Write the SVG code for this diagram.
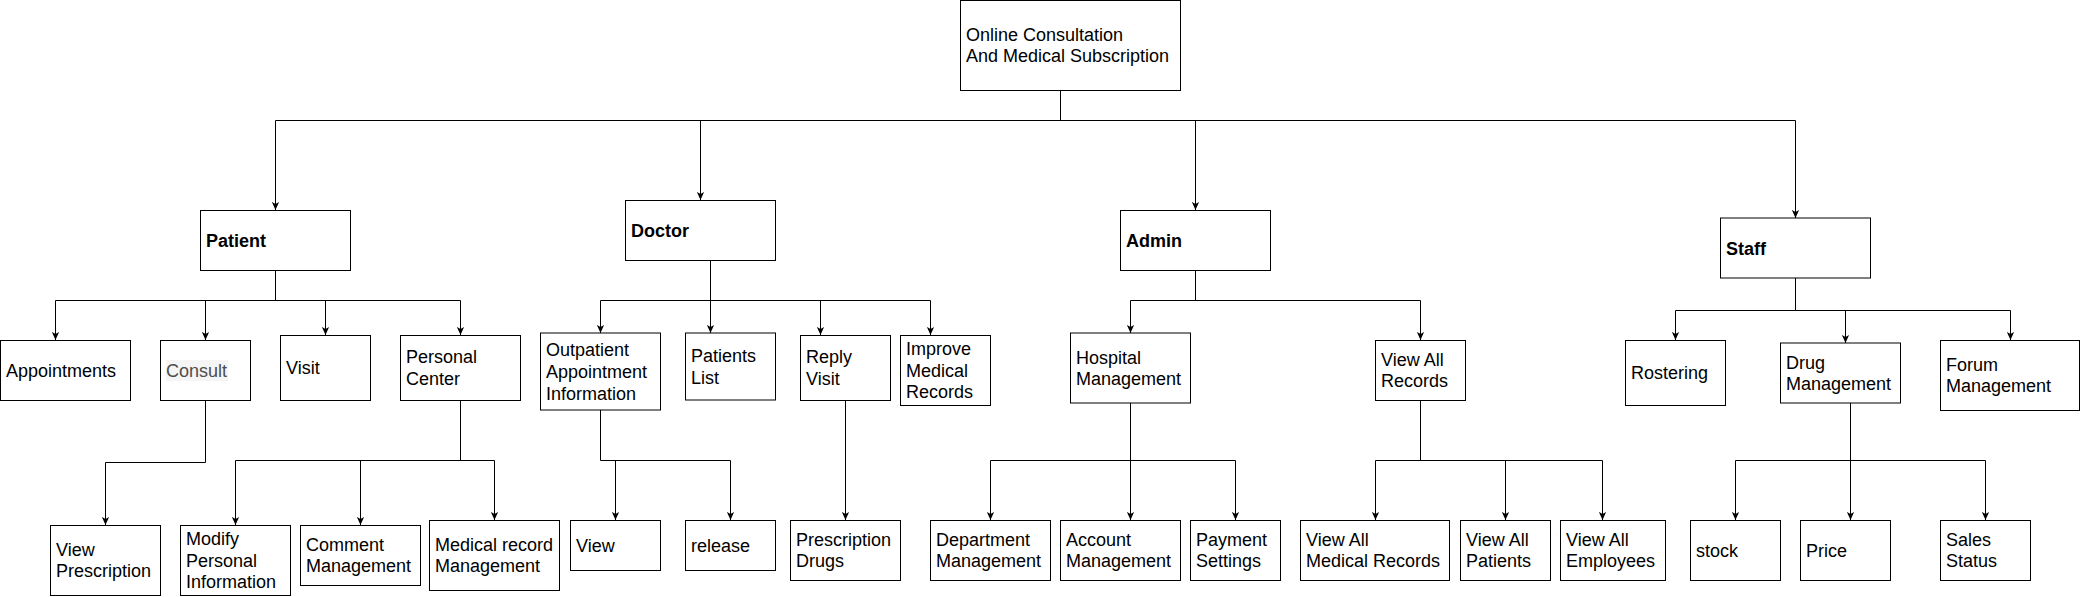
<svg xmlns="http://www.w3.org/2000/svg" width="2081" height="597" viewBox="0 0 2081 597">
<style>
.n rect{fill:#fff;stroke:#000;stroke-width:1}
.n text{font-family:"Liberation Sans",Arial,sans-serif;font-size:18px;fill:#000}
.n text.b{font-weight:bold}
.c path{fill:none;stroke:#000;stroke-width:1}
.c path.a{marker-end:url(#arr)}
</style>
<defs>
<marker id="arr" viewBox="0 0 10 10" refX="10" refY="5" markerWidth="8" markerHeight="8" markerUnits="userSpaceOnUse" orient="auto">
<path d="M0,0.5 L10,5 L0,9.5 L2.5,5 z" fill="#000"/>
</marker>
</defs>
<rect width="2081" height="597" fill="#fff"/>
<g class="c" id="connectors">
<path d="M1060.5,90 V120.5 M275.5,120.5 H1795.5"/>
<path class="a" d="M275.5,120.5 V210"/>
<path class="a" d="M700.5,120.5 V200"/>
<path class="a" d="M1195.5,120.5 V210"/>
<path class="a" d="M1795.5,120.5 V218"/>
<path d="M275.5,270 V300.5 M55.5,300.5 H460.5"/>
<path class="a" d="M55.5,300.5 V340"/>
<path class="a" d="M205.5,300.5 V340"/>
<path class="a" d="M325.5,300.5 V335"/>
<path class="a" d="M460.5,300.5 V335"/>
<path class="a" d="M205.5,400 V462.5 H105.5 V525"/>
<path d="M460.5,400 V460.5 M235.5,460.5 H494.5"/>
<path class="a" d="M235.5,460.5 V525"/>
<path class="a" d="M360.5,460.5 V525"/>
<path class="a" d="M494.5,460.5 V520"/>
<path d="M710.5,260 V300.5 M600.5,300.5 H930.5"/>
<path class="a" d="M600.5,300.5 V333"/>
<path class="a" d="M710.5,300.5 V333"/>
<path class="a" d="M820.5,300.5 V335"/>
<path class="a" d="M930.5,300.5 V335"/>
<path d="M600.5,410 V460.5 H730.5"/>
<path class="a" d="M615.5,460.5 V520"/>
<path class="a" d="M730.5,460.5 V520"/>
<path class="a" d="M845.5,400 V520"/>
<path d="M1195.5,270 V300.5 M1130.5,300.5 H1420.5"/>
<path class="a" d="M1130.5,300.5 V333"/>
<path class="a" d="M1420.5,300.5 V340"/>
<path d="M1130.5,403 V460.5 M990.5,460.5 H1235.5"/>
<path class="a" d="M990.5,460.5 V520"/>
<path class="a" d="M1130.5,460.5 V520"/>
<path class="a" d="M1235.5,460.5 V520"/>
<path d="M1420.5,400 V460.5 M1375.5,460.5 H1602.5"/>
<path class="a" d="M1375.5,460.5 V520"/>
<path class="a" d="M1505.5,460.5 V520"/>
<path class="a" d="M1602.5,460.5 V520"/>
<path d="M1795.5,278 V310.5 M1675.5,310.5 H2010.5"/>
<path class="a" d="M1675.5,310.5 V340"/>
<path class="a" d="M1845.5,310.5 V343"/>
<path class="a" d="M2010.5,310.5 V340"/>
<path d="M1850.5,403 V460.5 M1735.5,460.5 H1985.5"/>
<path class="a" d="M1735.5,460.5 V520"/>
<path class="a" d="M1850.5,460.5 V520"/>
<path class="a" d="M1985.5,460.5 V520"/>
</g>
<g class="n" id="root"><rect x="960.5" y="0.5" width="220" height="90"/><text x="966" y="40.7"><tspan x="966">Online Consultation</tspan><tspan x="966" dy="21.6">And Medical Subscription</tspan></text></g>
<g class="n" id="patient"><rect x="200.5" y="210.5" width="150" height="60"/><text class="b" x="206" y="246.5">Patient</text></g>
<g class="n" id="doctor"><rect x="625.5" y="200.5" width="150" height="60"/><text class="b" x="631" y="236.5">Doctor</text></g>
<g class="n" id="admin"><rect x="1120.5" y="210.5" width="150" height="60"/><text class="b" x="1126" y="246.5">Admin</text></g>
<g class="n" id="staff"><rect x="1720.5" y="218" width="150" height="60"/><text class="b" x="1726" y="254.5">Staff</text></g>
<g class="n" id="appointments"><rect x="0.5" y="340.5" width="130" height="60"/><text x="6" y="376.5">Appointments</text></g>
<g class="n" id="consult"><rect x="160.5" y="340.5" width="90" height="60"/><rect x="166" y="360" width="62" height="21" style="fill:#f5f5f5;stroke:none"/><text x="166" y="376.5" style="fill:#4d4d4d">Consult</text></g>
<g class="n" id="visit"><rect x="280.5" y="335.5" width="90" height="65"/><text x="286" y="374">Visit</text></g>
<g class="n" id="personal-center"><rect x="400.5" y="335.5" width="120" height="65"/><text y="363.2"><tspan x="406">Personal</tspan><tspan x="406" dy="21.6">Center</tspan></text></g>
<g class="n" id="view-prescription"><rect x="50.5" y="525.5" width="110" height="70"/><text y="555.7"><tspan x="56">View</tspan><tspan x="56" dy="21.6">Prescription</tspan></text></g>
<g class="n" id="modify-info"><rect x="180.5" y="525.5" width="110" height="70"/><text y="544.9"><tspan x="186">Modify</tspan><tspan x="186" dy="21.6">Personal</tspan><tspan x="186" dy="21.6">Information</tspan></text></g>
<g class="n" id="comment-mgmt"><rect x="300.5" y="525.5" width="120" height="60"/><text y="550.7"><tspan x="306">Comment</tspan><tspan x="306" dy="21.6">Management</tspan></text></g>
<g class="n" id="medical-record-mgmt"><rect x="429.5" y="520.5" width="130" height="70"/><text y="550.7"><tspan x="435">Medical record</tspan><tspan x="435" dy="21.6">Management</tspan></text></g>
<g class="n" id="outpatient"><rect x="540.5" y="333" width="120" height="77"/><text y="356.4"><tspan x="546">Outpatient</tspan><tspan x="546" dy="21.6">Appointment</tspan><tspan x="546" dy="21.6">Information</tspan></text></g>
<g class="n" id="patients-list"><rect x="685.5" y="333" width="90" height="67"/><text y="362.2"><tspan x="691">Patients</tspan><tspan x="691" dy="21.6">List</tspan></text></g>
<g class="n" id="reply-visit"><rect x="800.5" y="335.5" width="90" height="65"/><text y="363.2"><tspan x="806">Reply</tspan><tspan x="806" dy="21.6">Visit</tspan></text></g>
<g class="n" id="improve-records"><rect x="900.5" y="335.5" width="90" height="70"/><text y="354.9"><tspan x="906">Improve</tspan><tspan x="906" dy="21.6">Medical</tspan><tspan x="906" dy="21.6">Records</tspan></text></g>
<g class="n" id="view"><rect x="570.5" y="520.5" width="90" height="50"/><text x="576" y="551.5">View</text></g>
<g class="n" id="release"><rect x="685.5" y="520.5" width="90" height="50"/><text x="691" y="551.5">release</text></g>
<g class="n" id="prescription-drugs"><rect x="790.5" y="520.5" width="110" height="60"/><text y="545.7"><tspan x="796">Prescription</tspan><tspan x="796" dy="21.6">Drugs</tspan></text></g>
<g class="n" id="hospital-mgmt"><rect x="1070.5" y="333" width="120" height="70"/><text y="363.7"><tspan x="1076">Hospital</tspan><tspan x="1076" dy="21.6">Management</tspan></text></g>
<g class="n" id="view-all-records"><rect x="1375.5" y="340.5" width="90" height="60"/><text y="365.7"><tspan x="1381">View All</tspan><tspan x="1381" dy="21.6">Records</tspan></text></g>
<g class="n" id="department-mgmt"><rect x="930.5" y="520.5" width="120" height="60"/><text y="545.7"><tspan x="936">Department</tspan><tspan x="936" dy="21.6">Management</tspan></text></g>
<g class="n" id="account-mgmt"><rect x="1060.5" y="520.5" width="120" height="60"/><text y="545.7"><tspan x="1066">Account</tspan><tspan x="1066" dy="21.6">Management</tspan></text></g>
<g class="n" id="payment-settings"><rect x="1190.5" y="520.5" width="90" height="60"/><text y="545.7"><tspan x="1196">Payment</tspan><tspan x="1196" dy="21.6">Settings</tspan></text></g>
<g class="n" id="view-all-medical-records"><rect x="1300.5" y="520.5" width="149" height="60"/><text y="545.7"><tspan x="1306">View All</tspan><tspan x="1306" dy="21.6">Medical Records</tspan></text></g>
<g class="n" id="view-all-patients"><rect x="1460.5" y="520.5" width="90" height="60"/><text y="545.7"><tspan x="1466">View All</tspan><tspan x="1466" dy="21.6">Patients</tspan></text></g>
<g class="n" id="view-all-employees"><rect x="1560.5" y="520.5" width="105" height="60"/><text y="545.7"><tspan x="1566">View All</tspan><tspan x="1566" dy="21.6">Employees</tspan></text></g>
<g class="n" id="rostering"><rect x="1625.5" y="340.5" width="100" height="65"/><text x="1631" y="379">Rostering</text></g>
<g class="n" id="drug-mgmt"><rect x="1780.5" y="343" width="120" height="60"/><text y="368.7"><tspan x="1786">Drug</tspan><tspan x="1786" dy="21.6">Management</tspan></text></g>
<g class="n" id="forum-mgmt"><rect x="1940.5" y="340.5" width="139" height="70"/><text y="370.7"><tspan x="1946">Forum</tspan><tspan x="1946" dy="21.6">Management</tspan></text></g>
<g class="n" id="stock"><rect x="1690.5" y="520.5" width="90" height="60"/><text x="1696" y="556.5">stock</text></g>
<g class="n" id="price"><rect x="1800.5" y="520.5" width="90" height="60"/><text x="1806" y="556.5">Price</text></g>
<g class="n" id="sales-status"><rect x="1940.5" y="520.5" width="90" height="60"/><text y="545.7"><tspan x="1946">Sales</tspan><tspan x="1946" dy="21.6">Status</tspan></text></g>
</svg>
